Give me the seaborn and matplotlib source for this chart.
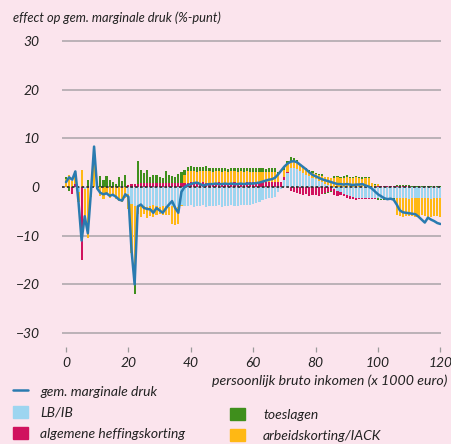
import numpy as np
import pandas as pd
import matplotlib.pyplot as plt
import seaborn as sns
from matplotlib.patches import Patch
from matplotlib.lines import Line2D

# persoonlijk bruto inkomen (x 1000 euro)
inkomen = list(range(0, 121))

lb_ib = [0, 0, 0, 0, -1.0, 0, -0.5, 0, 0, 0,
         0, 0, 0, 0, 0, 0, 0, 0, 0, 0,
         -1.5, -3.5, -4.0, -4.0,
         -4.0, -3.9, -4.1, -4.0, -3.8, -4.0, -4.1, -3.9, -4.0, -4.2, -3.9, -4.0, -4.1, -3.6,
         -3.9, -4.0, -3.8, -4.1, -3.9, -4.0, -3.8, -4.2, -3.9, -4.0, -3.9, -3.8, -4.1, -3.9,
         -4.0, -3.8, -3.9, -4.0, -3.7, -3.8, -3.7,
         -3.6, -3.4, -3.2, -3.0, -2.6, -2.4, -2.3, -2.2, -2.0, -1.0, -0.4,
         1.5, 2.8, 3.8, 4.0, 3.7, 3.3, 2.9, 2.5, 2.2, 1.9, 1.6, 1.3, 1.0, 0.7, 0.4, 0.1,
         -0.5, -0.8, -1.1, -1.4, -1.7, -1.9, -2.1, -2.2, -2.2, -2.3, -2.3, -2.3, -2.3, -2.3,
         -2.3, -2.4, -2.3, -2.3, -2.4, -2.3, -2.3, -2.2, -2.3, -2.3, -2.4, -2.3, -2.3, -2.3,
         -2.2, -2.3, -2.3, -2.4, -2.3, -2.3, -2.3]

heffingskorting = [0, 0, -1.5, 0.6, 0, -15.0, 0, 0, 0, 0,
                   0, 0, 0, 0, 0, 0, 0, 0, 0, 0,
                   0.5, 0.6, 0.6, 0.7,
                   0.8, 0.8, 0.8, 0.8, 0.8, 0.8, 0.8, 0.8, 0.8, 0.8, 0.8, 0.8, 0.8, 0.8,
                   0.9, 0.9, 1.0, 0.9, 0.8, 0.9, 1.0, 0.9, 0.9, 0.8, 0.9, 1.0, 0.9, 0.9,
                   0.8, 0.9, 1.0, 0.9, 0.9, 0.9, 1.0,
                   1.0, 1.0, 1.0, 1.0, 1.0, 1.0, 1.0, 1.0, 1.0, 1.0, 1.0,
                   0.5, 0.3, -0.8, -1.0, -1.2, -1.4, -1.6, -1.5, -1.8, -1.6, -1.7, -1.8, -1.5, -1.2,
                   -1.0, -0.8, -1.2, -1.0, -0.6, -0.5, -0.5, -0.5, -0.4, -0.4, -0.3, -0.2, -0.2,
                   -0.2, -0.2, -0.2,
                   0.2, 0.2, 0.2, 0.2, 0.2, 0.2, 0.2, 0.2, 0.2, 0.2, 0.2,
                   0, 0, 0, 0, 0, 0, 0, 0, 0, 0]

toeslagen = [0.5, -0.9, 0, 0.7, 0, 0, 0, 1.4, 0, 0,
             0.3, 2.2, 1.5, 2.3, 1.5, 1.0, 0.6, 2.0, 1.2, 2.5,
             0, 0, -5.0, 4.6,
             2.7, 2.0, 2.7, 1.3, 1.7, 1.6, 1.2, 1.1, 2.4, 1.6, 1.5, 1.3, 1.8, 2.2,
             0.9, 0.9, 1.0, 0.8, 1.1, 0.9, 0.8, 1.1, 0.7, 0.8, 0.6, 0.7, 0.8, 0.7,
             0.6, 0.8, 0.7, 0.7, 0.6, 0.8, 0.7,
             0.8, 0.7, 0.8, 0.7, 0.8, 0.6, 0.7, 0.8, 0.7, 0.6, 0,
             0.7, 0.7, 0.9, 0.6, 0.5, 0.3, 0.3, 0.4, 0.2, 0.3, 0.2, 0.3, 0.4, -0.3,
             -0.3, -0.3, 0.3, 0.2, 0.3, 0.4, 0.3, 0.2, 0.3, 0.3, 0.2, 0.3, 0.2, 0.2,
             0.1, 0.1,
             -0.3, -0.3, -0.3, -0.3, -0.3, -0.3,
             0.2, 0.2, 0.2, 0.2, 0.2, 0.2, 0.2, 0.2, 0.2, 0.2, 0.2, 0.2, 0.2, 0.2, 0.2]

arbeidskorting = [1.6, 2.5, 1.2, 2.0, -2.0, 3.5, -6.0, -10.5, -2.0, 8.3,
                  -0.5, -1.8, -2.5, -1.5, -2.2, -1.8, -2.5, -2.8, -3.0, -2.2,
                  -3.0, -10.0, -13.0, -1.5,
                  -2.2, -1.6, -2.3, -2.0, -2.4, -1.8, -1.5, -1.9, -1.7, -1.6, -3.6, -3.8, -3.5, -0.4,
                  1.6, 2.3, 2.3, 2.4, 2.2, 2.3, 2.3, 2.4, 2.3, 2.2, 2.3, 2.3, 2.2, 2.3,
                  2.2, 2.3, 2.3, 2.2, 2.3, 2.2, 2.2,
                  2.1, 2.1, 2.1, 2.1, 2.1, 2.1, 2.1, 2.1, 2.1, 1.5, 0,
                  1.5, 1.6, 1.4, 1.3, 1.3, 1.2, 1.1, 1.0, 1.0, 1.0, 1.0, 1.1, 1.2, 1.4,
                  1.6, 1.8, 1.9, 2.0, 1.8, 1.9, 2.1, 1.9, 1.8, 2.0, 1.9, 1.7, 1.9, 1.8,
                  0.8, 0.5,
                  0.5, 0, 0, 0, 0, 0, -3.5, -3.7, -3.8, -3.7, -3.6, -3.7, -3.8, -3.7,
                  -3.6, -3.7, -3.8, -3.7, -3.6, -3.7, -3.8]

marginale_druk = [1.0, 2.0, 1.5, 3.2, -3.0, -11.0, -6.0, -9.5, -1.0, 8.3,
                  -0.3, -1.2, -1.5, -1.3, -1.8, -1.6, -2.0, -2.6, -2.8, -1.5,
                  -2.0, -13.0, -20.0, -4.0,
                  -3.6, -4.3, -4.5, -4.6, -5.3, -4.3, -4.8, -5.3, -4.4, -3.6, -2.9, -4.3, -5.3, -1.0,
                  0.0, 0.4, 0.6, 0.8, 0.9, 0.6, 0.3, 0.5, 0.6, 0.6, 0.7, 0.6, 0.6, 0.7,
                  0.6, 0.7, 0.6, 0.6, 0.7, 0.6, 0.7,
                  0.7, 0.7, 0.8, 0.9, 1.1, 1.3, 1.5, 1.6, 1.9, 2.6, 3.4,
                  4.2, 4.8, 5.2, 5.3, 5.1, 4.6, 4.1, 3.6, 3.0, 2.5, 2.2, 1.9, 1.6, 1.4,
                  1.2, 1.0, 0.8, 0.6, 0.6, 0.5, 0.6, 0.5, 0.4, 0.5, 0.5, 0.6, 0.3, 0.1,
                  -0.3, -0.9,
                  -1.5, -1.9, -2.3, -2.5, -2.4, -2.6, -3.6, -4.8, -5.2, -5.3, -5.4, -5.5,
                  -5.6, -6.1, -6.7, -7.3, -6.3, -6.7, -7.0, -7.4, -7.6]

df = pd.DataFrame({
    'inkomen': inkomen,
    'LB/IB': lb_ib,
    'algemene heffingskorting': heffingskorting,
    'toeslagen': toeslagen,
    'arbeidskorting/IACK': arbeidskorting,
    'druk': marginale_druk,
})

sns.set_theme(style='white')
plt.rcParams['font.family'] = ['Lato', 'DejaVu Sans']
plt.rcParams['font.style'] = 'italic'
tekstkleur = '#222222'
achtergrond = '#fbe4ed'

kleuren = {
    'LB/IB': '#9dd5f0',
    'algemene heffingskorting': '#d0125e',
    'toeslagen': '#3f8f1c',
    'arbeidskorting/IACK': '#ffb814',
}

fig = plt.figure(figsize=(4.51, 4.44), dpi=100, facecolor=achtergrond)
ax = fig.add_axes([62 / 451, 97.3 / 444, 379 / 451, 308.7 / 444])
ax.set_facecolor(achtergrond)

for y in [-30, -20, -10, 10, 20, 30]:
    ax.axhline(y, color='#aaa3a8', lw=1.1, zorder=0)

# gestapelde staven: positief omhoog, negatief omlaag
x = df['inkomen'].to_numpy()
onder = np.zeros(len(df))
for kol in ['LB/IB', 'algemene heffingskorting', 'arbeidskorting/IACK', 'toeslagen']:
    h = df[kol].clip(lower=0).to_numpy()
    ax.bar(x, h, bottom=onder, width=0.7, color=kleuren[kol], linewidth=0, zorder=2)
    onder += h
onder = np.zeros(len(df))
for kol in ['LB/IB', 'arbeidskorting/IACK', 'algemene heffingskorting', 'toeslagen']:
    h = df[kol].clip(upper=0).to_numpy()
    ax.bar(x, h, bottom=onder, width=0.7, color=kleuren[kol], linewidth=0, zorder=2)
    onder += h

ax.axhline(0, color='#333333', lw=1.3, ls=(0, (1.5, 1.2)), zorder=3)

sns.lineplot(data=df, x='inkomen', y='druk', color='#2a7bb0', lw=1.8, ax=ax, zorder=4)

ax.set_xlim(-1.28, 120.19)
ax.set_ylim(-32.8, 30.6)
ax.set_xticks(range(0, 121, 20))
ax.set_yticks([-30, -20, -10, 0, 10, 20, 30])
ax.tick_params(axis='x', bottom=True, length=3.6, width=0.9, color='#9a9a9a',
               direction='out', pad=4, labelsize=10, labelcolor=tekstkleur)
ax.tick_params(axis='y', left=False, length=0, pad=16, labelsize=10, labelcolor=tekstkleur)
ax.set_xlabel('')
ax.set_ylabel('')
for s in ax.spines.values():
    s.set_visible(False)

fig.text(13 / 451, 1 - 18 / 444, 'effect op gem. marginale druk (%-punt)',
         fontsize=9.3, color=tekstkleur, va='center', ha='left')
fig.text(447 / 451, 1 - 381 / 444, 'persoonlijk bruto inkomen (x 1000 euro)',
         fontsize=10.2, color=tekstkleur, va='center', ha='right')

h1 = [Line2D([0], [0], color='#2a7bb0', lw=1.8),
      Patch(color=kleuren['LB/IB']),
      Patch(color=kleuren['algemene heffingskorting'])]
l1 = ['gem. marginale druk', 'LB/IB', 'algemene heffingskorting']
h2 = [Patch(color=kleuren['toeslagen']), Patch(color=kleuren['arbeidskorting/IACK'])]
l2 = ['toeslagen', 'arbeidskorting/IACK']

opts = dict(frameon=False, fontsize=10, handlelength=1.08, handleheight=0.95,
            labelspacing=0.6, borderpad=0, borderaxespad=0,
            labelcolor=tekstkleur, loc='upper left')
fig.legend(h1, l1, bbox_to_anchor=(13 / 451, 1 - 385 / 444), handletextpad=0.86, **opts)
fig.legend(h2, l2, bbox_to_anchor=(230 / 451, 1 - 408 / 444), handletextpad=1.3, **opts)

fig.savefig('out.png', dpi=100, facecolor=achtergrond)
